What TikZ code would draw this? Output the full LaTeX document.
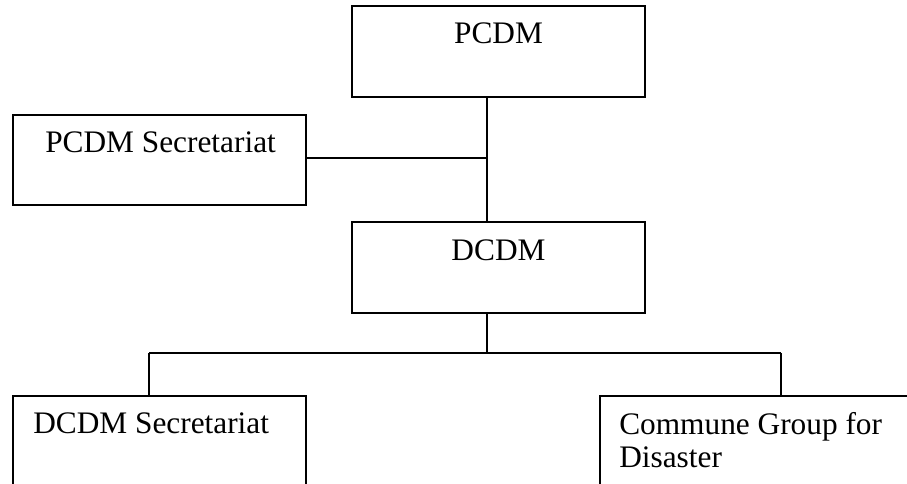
\documentclass[tikz,border=0pt]{standalone}
\usepackage{fontspec}
\setmainfont{Liberation Serif}
\usetikzlibrary{positioning, calc}
\tikzset{
	box/.style={draw, rectangle, line width=1pt, inner sep=0pt},
	lbl/.style={inner sep=0pt, font=\fontsize{23.5}{25}\selectfont},
	link/.style={line width=1pt}
}

\begin{document}
\begin{tikzpicture}[x=0.75pt,y=0.75pt,yscale=-1,xscale=1]
		\useasboundingbox (0,0) rectangle (907,484);
		\clip (0,0) rectangle (907,484);

		%Shape: Rectangle [PCDM]
		\node [box, minimum width=219.75pt, minimum height=68.25pt] (pcdm) at (498.5,51.5) {};
		%Shape: Rectangle [PCDM Secretariat]
		\node [box, minimum width=219.75pt, minimum height=67.5pt] (psec) at (159.5,160) {};
		%Shape: Rectangle [DCDM]
		\node [box, minimum width=219.75pt, minimum height=68.25pt] (dcdm) at (498.5,267.5) {};
		%Shape: Rectangle [DCDM Secretariat]
		\node [box, minimum width=219.75pt, minimum height=97.5pt] (dsec) at (159.5,461) {};
		%Shape: Rectangle [Commune Group]
		\node [box, minimum width=247.5pt, minimum height=97.5pt] (cgroup) at (765,461) {};

		%Straight Lines
		\coordinate (trunk) at (487,158);
		\coordinate (bus) at (487,353);
		\coordinate (busl) at (149,353);
		\coordinate (busr) at (781,353);
		\draw [link] (pcdm.south -| trunk) -- (dcdm.north -| trunk);
		\draw [link] (psec.east |- trunk) -- (trunk);
		\draw [link] (dcdm.south -| bus) -- (bus);
		\draw [link] (busl) -- (busr);
		\draw [link] (busl) -- (busl |- dsec.north);
		\draw [link] (busr) -- (busr |- cgroup.north);

		% Text Node
		\node [lbl, anchor=base] (pcdmtxt) at (498.5,44) {PCDM};
		% Text Node
		\node [lbl, anchor=base west] (psectxt) at (45,153) {PCDM Secretariat};
		% Text Node
		\node [lbl, anchor=base] (dcdmtxt) at (498.5,261) {DCDM};
		% Text Node
		\node [lbl, anchor=base west] (dsectxt) at (33,434) {DCDM Secretariat};
		% Text Node
		\node [lbl, anchor=base west] (cgtxt) at (619,435) {Commune Group for};
		% Text Node
		\node [lbl, anchor=base west] (cgtxtb) at (619,468) {Disaster};

	\end{tikzpicture}
\end{document}
